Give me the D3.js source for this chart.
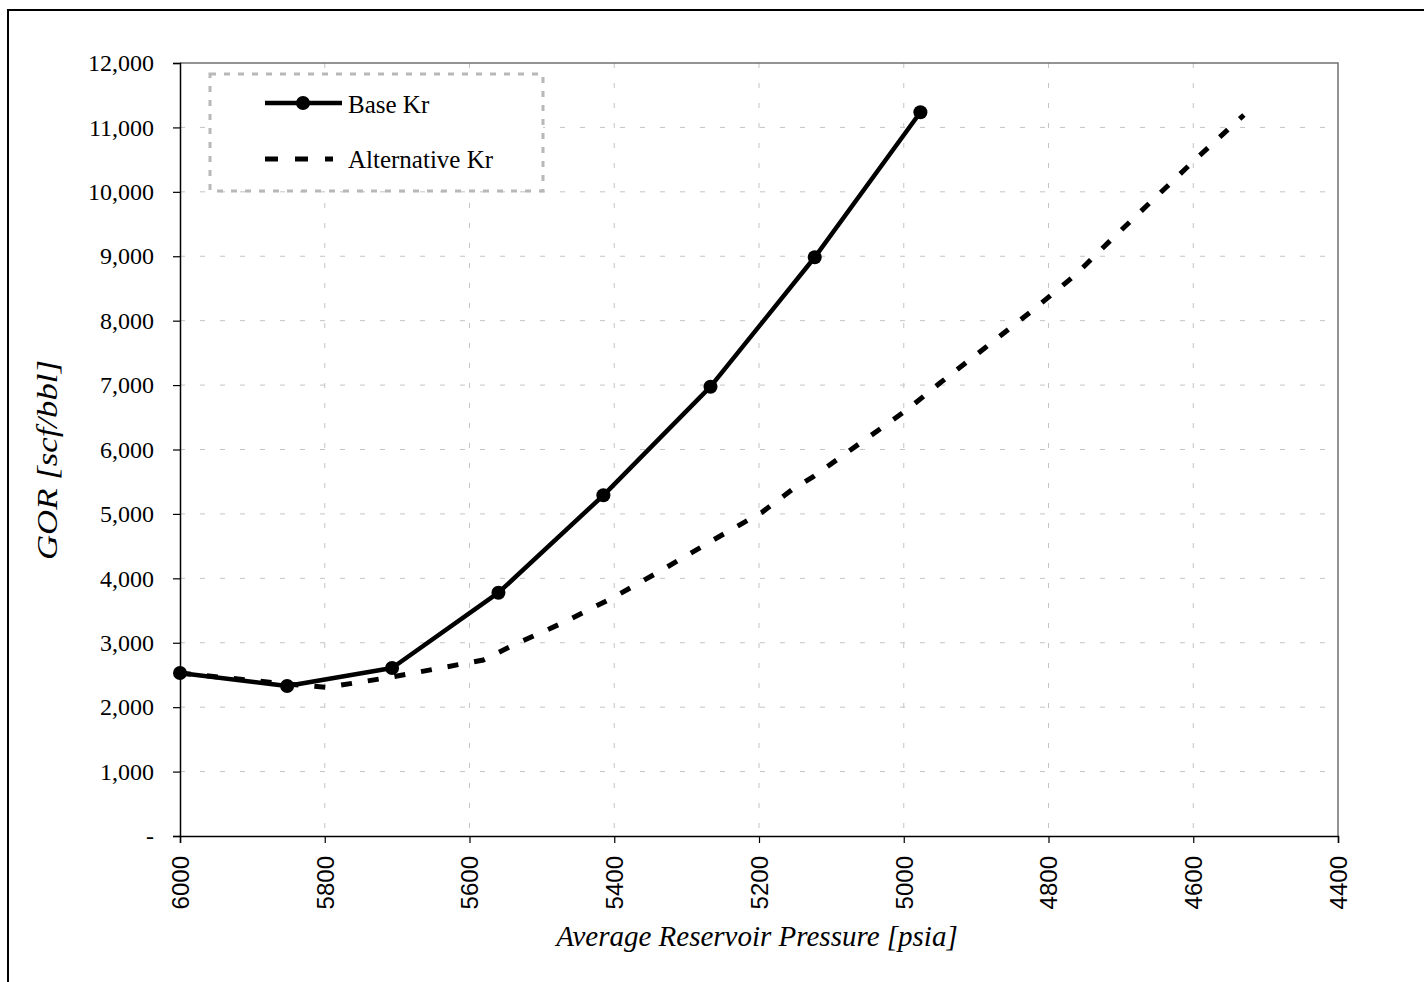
<!DOCTYPE html>
<html>
<head>
<meta charset="utf-8">
<script src="https://cdn.jsdelivr.net/npm/d3@7"></script>
<style>
  body { margin: 0; background: #fff; }
  svg { display: block; }
</style>
</head>
<body>
<svg width="1424" height="982"></svg>
<script>
// Base Kr series (points with markers)
const basePressure = [6000, 5852, 5707, 5560, 5415, 5267, 5123, 4977];
const baseGor = [2530, 2329, 2608, 3777, 5289, 6975, 8984, 11235];

// Alternative Kr series (dashed, no markers)
const altPressure = [6000, 5852, 5797, 5707, 5581, 5544, 5471, 5402, 5334, 5265, 5196, 5155, 5125, 5060, 4996, 4950, 4888, 4826, 4763, 4711, 4653, 4595, 4530];
const altGor = [2530, 2360, 2308, 2468, 2732, 2939, 3311, 3699, 4129, 4584, 5025, 5371, 5578, 6101, 6613, 7032, 7576, 8124, 8709, 9283, 9904, 10525, 11193];

// Ticks
const xTicks = [6000, 5800, 5600, 5400, 5200, 5000, 4800, 4600, 4400];
const yTicks = [0, 1000, 2000, 3000, 4000, 5000, 6000, 7000, 8000, 9000, 10000, 11000, 12000];

const seriesNames = ["Base Kr", "Alternative Kr"];

const svg = d3.select("svg");
const serif = "'Liberation Serif', 'Times New Roman', serif";
const sans = "'Liberation Sans', Arial, sans-serif";

// Moldura externa (só aparecem o topo e a esquerda)
svg.append("path")
    .attr("d", "M8,982V10H1424")
    .attr("fill", "none")
    .attr("stroke", "#000")
    .attr("stroke-width", 2);

const margens = { left: 180, right: 86, top: 63, bottom: 146 };
const width = 1424, height = 982;
const innerWidth = width - margens.left - margens.right;
const innerHeight = height - margens.top - margens.bottom;

const group = svg.append("g")
    .attr("transform", `translate(${margens.left},${margens.top})`);

// Escalas: pressão decrescente da esquerda para a direita
const x = d3.scaleLinear().domain([6000, 4400]).range([0, innerWidth]);
const y = d3.scaleLinear().domain([0, 12000]).range([innerHeight, 0]);

// Grade tracejada cinza
group.append("g")
    .selectAll("line")
    .data(yTicks.filter(d => d > 0 && d < 12000))
    .join("line")
    .attr("x1", 0).attr("x2", innerWidth)
    .attr("y1", d => y(d)).attr("y2", d => y(d))
    .attr("stroke", "#c4c4c4")
    .attr("stroke-width", 1)
    .attr("stroke-dasharray", "5,15");

group.append("g")
    .selectAll("line")
    .data(xTicks.filter(d => d < 6000 && d > 4400))
    .join("line")
    .attr("x1", d => x(d)).attr("x2", d => x(d))
    .attr("y1", 0).attr("y2", innerHeight)
    .attr("stroke", "#c4c4c4")
    .attr("stroke-width", 1)
    .attr("stroke-dasharray", "5,15");

// Borda da área do gráfico (topo e direita)
group.append("path")
    .attr("d", `M0,0H${innerWidth}V${innerHeight}`)
    .attr("fill", "none")
    .attr("stroke", "#707070")
    .attr("stroke-width", 1.5);

// Eixo Y
const yAxis = group.append("g")
    .call(d3.axisLeft(y)
        .tickValues(yTicks)
        .tickSize(7)
        .tickPadding(19)
        .tickFormat(d => d === 0 ? "-" : d3.format(",")(d)));
yAxis.select(".domain").attr("stroke", "#000").attr("stroke-width", 1.5);
yAxis.selectAll(".tick line").attr("stroke", "#000").attr("stroke-width", 1.2);
yAxis.selectAll(".tick text")
    .attr("font-family", serif)
    .attr("font-size", 24)
    .attr("fill", "#000");

// Eixo X com rótulos rotacionados
const xAxis = group.append("g")
    .attr("transform", `translate(0,${innerHeight})`)
    .call(d3.axisBottom(x).tickValues(xTicks).tickSize(7).tickFormat(d3.format("d")));
xAxis.select(".domain").attr("stroke", "#000").attr("stroke-width", 1.5);
xAxis.selectAll(".tick line").attr("stroke", "#000").attr("stroke-width", 1.2);
xAxis.selectAll(".tick text")
    .attr("font-family", sans)
    .attr("font-size", 24)
    .attr("fill", "#000")
    .attr("text-anchor", "end")
    .attr("transform", "rotate(-90)")
    .attr("x", -20)
    .attr("y", 0)
    .attr("dy", "0.35em");

// Títulos dos eixos
group.append("text")
    .attr("text-anchor", "middle")
    .attr("x", 577)
    .attr("y", innerHeight + 110)
    .attr("font-family", serif)
    .attr("font-style", "italic")
    .attr("font-size", 29)
    .text("Average Reservoir Pressure [psia]");

group.append("text")
    .attr("text-anchor", "middle")
    .attr("transform", "rotate(-90)")
    .attr("x", -(460 - margens.top))
    .attr("y", 57 - margens.left)
    .attr("font-family", serif)
    .attr("font-style", "italic")
    .attr("font-size", 30)
    .attr("textLength", 200)
    .attr("lengthAdjust", "spacingAndGlyphs")
    .text("GOR [scf/bbl]");

// Linhas das séries
const baseData = basePressure.map((p, i) => ({ p, g: baseGor[i] }));
const altData = altPressure.map((p, i) => ({ p, g: altGor[i] }));
const line = d3.line().x(d => x(d.p)).y(d => y(d.g));

group.append("path")
    .datum(altData)
    .attr("fill", "none")
    .attr("stroke", "#000")
    .attr("stroke-width", 5)
    .attr("stroke-dasharray", "11,16")
    .attr("d", line);

group.append("path")
    .datum(baseData)
    .attr("fill", "none")
    .attr("stroke", "#000")
    .attr("stroke-width", 4.5)
    .attr("stroke-linejoin", "round")
    .attr("d", line);

group.selectAll("circle.base")
    .data(baseData)
    .join("circle")
    .attr("class", "base")
    .attr("cx", d => x(d.p))
    .attr("cy", d => y(d.g))
    .attr("r", 7)
    .attr("fill", "#000");

// Legenda
const legend = svg.append("g");
legend.append("rect")
    .attr("x", 210).attr("y", 74)
    .attr("width", 333).attr("height", 117)
    .attr("fill", "#fff")
    .attr("stroke", "#b8b8b8")
    .attr("stroke-width", 3)
    .attr("stroke-dasharray", "6,8");

legend.append("line")
    .attr("x1", 265).attr("x2", 342).attr("y1", 103).attr("y2", 103)
    .attr("stroke", "#000").attr("stroke-width", 4.5);
legend.append("circle")
    .attr("cx", 303).attr("cy", 103).attr("r", 7).attr("fill", "#000");
legend.append("line")
    .attr("x1", 265).attr("x2", 333).attr("y1", 159).attr("y2", 159)
    .attr("stroke", "#000").attr("stroke-width", 5)
    .attr("stroke-dasharray", "13,17");

legend.selectAll("text")
    .data(seriesNames)
    .join("text")
    .attr("x", 348)
    .attr("y", (d, i) => i === 0 ? 113 : 168)
    .attr("font-family", serif)
    .attr("font-size", 25)
    .attr("fill", "#000")
    .text(d => d);
</script>
</body>
</html>
